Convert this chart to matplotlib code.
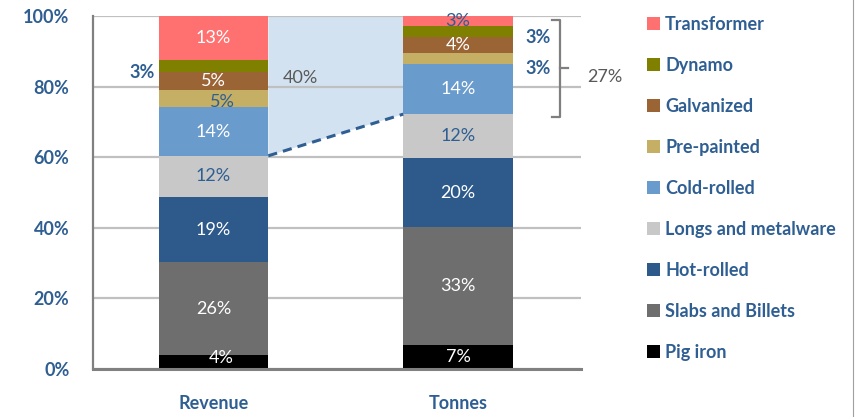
import matplotlib
matplotlib.use('Agg')
import matplotlib.pyplot as plt
from matplotlib.patches import Patch, Polygon
import numpy as np

plt.rcParams['font.family'] = ['Lato', 'DejaVu Sans']

# data (bottom to top of each stack)
categories = ['Revenue', 'Tonnes']
products = ['Pig iron', 'Slabs and Billets', 'Hot-rolled', 'Longs and metalware',
            'Cold-rolled', 'Pre-painted', 'Galvanized', 'Dynamo', 'Transformer']
revenue = [4.0, 26.2, 18.6, 11.6, 13.7, 5.0, 5.1, 3.2, 12.6]
tonnes = [6.9, 33.2, 19.7, 12.4, 14.1, 3.3, 4.4, 3.1, 2.9]
colors = ['#000000', '#6E6E6E', '#2D5A8A', '#C8C8C8', '#6A9BCD',
          '#C4AF65', '#9A6434', '#808000', '#FF7070']
yticks = [0, 20, 40, 60, 80, 100]

BLUE = '#2E5E92'
GREY = '#595959'
# label style per product: (text colour, where, dx, dy)  where: c=centre, l=left, r=right
rev_style = [('w', 'c', 0.03, 1.1), ('w', 'c', 0, 0), ('w', 'c', 0, 0), ('b', 'c', 0, 0),
             ('w', 'c', 0, 0), ('b', 'c', 0.035, -0.9), ('w', 'c', 0, 0),
             ('b', 'l', 0, -1.7), ('w', 'c', 0, 0)]
ton_style = [('w', 'c', 0, 0), ('w', 'c', 0, 0), ('w', 'c', 0, 0), ('b', 'c', 0, 0),
             ('w', 'c', 0, 0), ('b', 'r', 0, -2.95), ('w', 'c', 0, 0),
             ('b', 'r', 0, -1.75), ('b', 'c', 0, 0)]

fig = plt.figure(figsize=(8.55, 4.17), dpi=100)
ax = fig.add_axes([93 / 855, 48 / 417, 488 / 855, 353 / 417])

x = np.arange(len(categories))
w = 0.448
data = [revenue, tonnes]
styles = [rev_style, ton_style]

bottoms = []
for i, vals in enumerate(data):
    cum = np.concatenate([[0], np.cumsum(vals)])
    bottoms.append(cum)
    for j, v in enumerate(vals):
        ax.bar(x[i], v, w, bottom=cum[j], color=colors[j], zorder=2)
        col, where, dx, dy = styles[i][j]
        tc = 'white' if col == 'w' else BLUE
        yc = cum[j] + v / 2 + dy
        lab = f'{round(v)}%'
        if where == 'c':
            ax.text(x[i] + dx, yc, lab, ha='center', va='center', color=tc,
                    fontsize=13, zorder=3)
        elif where == 'l':
            ax.text(x[i] - w / 2 - 0.015, yc, lab, ha='right', va='center',
                    color=tc, fontsize=13, fontweight='bold', zorder=3)
        else:
            ax.text(x[i] + w / 2 + 0.05, yc, lab, ha='left', va='center',
                    color=tc, fontsize=13, fontweight='bold', zorder=3)

# shaded link between the upper segments of both bars
rb, tb = bottoms
poly = Polygon([(x[0] + w / 2, rb[-1]), (x[0] + w / 2, rb[4]),
                (x[1] - w / 2, tb[4]), (x[1] - w / 2, tb[-1])],
               closed=True, facecolor='#D3E2F1', edgecolor='none', zorder=0.3)
ax.add_patch(poly)
ax.plot([x[0] + w / 2, x[1] - w / 2], [rb[4], tb[4]], color=BLUE, lw=2.2,
        ls=(0, (3, 2)), zorder=2.5)
ax.text(0.356, 82.4, f'{sum(round(v) for v in revenue[4:])}%', ha='center',
        va='center', color=GREY, fontsize=13)

# bracket on the tonnes bar
bx = 1.417
btop = tb[-1] - 1.1
bbot = tb[4] - 0.8
bmid = (btop + bbot) / 2
ax.plot([bx - 0.033, bx, bx, bx - 0.033], [btop, btop, bbot, bbot],
        color='#7F7F7F', lw=1.6, clip_on=False, zorder=3)
ax.plot([bx, bx + 0.033], [bmid, bmid], color='#7F7F7F', lw=1.6,
        clip_on=False, zorder=3)
ax.text(bx + 0.11, bmid - 2.5, f'{sum(round(v) for v in tonnes[4:])}%', ha='left',
        va='center', color=GREY, fontsize=13, clip_on=False)

ax.set_xlim(-0.493, 1.503)
ax.set_ylim(0, 100)
ax.set_yticks(yticks)
ax.set_yticklabels([f'{t}%' for t in yticks])
ax.set_xticks(x)
ax.set_xticklabels(categories)
for lab in ax.get_yticklabels() + ax.get_xticklabels():
    lab.set_color(BLUE)
    lab.set_fontweight('bold')
    lab.set_fontsize(13)
ax.tick_params(axis='y', length=0, pad=17)
ax.tick_params(axis='x', length=0, pad=19)

ax.yaxis.grid(True, color='#C0C0C0', lw=1.6, zorder=1)
ax.set_axisbelow(True)
for s in ['top', 'right']:
    ax.spines[s].set_visible(False)
ax.spines['left'].set_color('#808080')
ax.spines['left'].set_linewidth(1.6)
ax.spines['bottom'].set_color('#808080')
ax.spines['bottom'].set_linewidth(2.2)

handles = [Patch(facecolor=colors[j], edgecolor='none') for j in range(len(products))][::-1]
leg = ax.legend(handles, products[::-1], loc='upper left',
                bbox_to_anchor=(647 / 855, 1 - 16 / 417), bbox_transform=fig.transFigure,
                frameon=False, handlelength=0.7, handleheight=0.7, handletextpad=0.3,
                labelspacing=1.33, borderpad=0, borderaxespad=0,
                prop={'size': 13, 'weight': 'bold'}, labelcolor=BLUE)

fig.add_artist(plt.Line2D([853 / 855, 853 / 855], [0, 1], color='#A0A0A0', lw=0.8,
                          transform=fig.transFigure))

fig.savefig('out.png', dpi=100)
